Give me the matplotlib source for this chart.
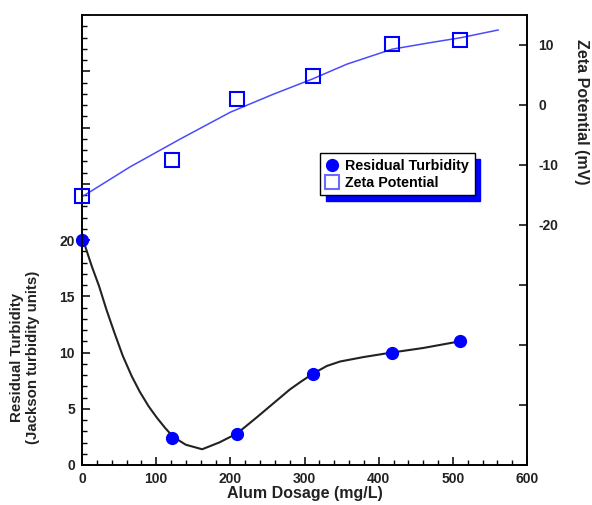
import numpy as np
import matplotlib.pyplot as plt
from matplotlib.ticker import MultipleLocator

plt.rcParams['font.family'] = ['Liberation Sans', 'DejaVu Sans']
plt.rcParams['font.weight'] = 'bold'

# measured points
dosage = [0, 122, 209, 311, 418, 510]
turbidity = [20, 2.4, 2.8, 8.1, 10.0, 11.0]
zeta = [-15.2, -9.2, 1.0, 4.9, 10.1, 10.9]

# smooth curves
turb_curve_x = [0, 4, 13, 23, 33, 44, 55, 67, 78, 90, 101, 112, 123, 140, 162, 185, 209, 235, 253, 280, 295, 311, 330, 348, 380, 418, 460, 510]
turb_curve_y = [20, 19.5, 17.7, 15.9, 13.8, 11.7, 9.7, 7.9, 6.5, 5.2, 4.2, 3.3, 2.5, 1.8, 1.4, 2.0, 2.8, 4.2, 5.2, 6.7, 7.4, 8.1, 8.8, 9.2, 9.6, 10.0, 10.4, 11.0]
zeta_curve_x = [0, 65, 132, 200, 258, 310, 357, 418, 470, 510, 561]
zeta_curve_y = [-15.3, -10.3, -5.7, -1.2, 1.8, 4.3, 6.8, 9.3, 10.4, 11.2, 12.5]

fig = plt.figure(figsize=(5.92, 5.05), dpi=100)
ax = fig.add_axes([82/592, 1-465/505, 445/592, 450/505])
ax2 = ax.twinx()

ax.plot(turb_curve_x, turb_curve_y, color='#222222', lw=1.5, zorder=2)
l1, = ax.plot(dosage, turbidity, 'o', color='#0000ff', ms=8.5, clip_on=False, zorder=3,
              label='Residual Turbidity')

ax2.plot(zeta_curve_x, zeta_curve_y, color='#4a4aff', lw=1.1, zorder=2)
l2, = ax2.plot(dosage, zeta, 's', mfc='none', mec='#0000ff', mew=1.5, ms=9.5, clip_on=False,
               zorder=3, label='Zeta Potential')

ax.set_xlim(0, 600)
ax.set_ylim(0, 40)
ax2.set_ylim(-60, 15)

ax.xaxis.set_major_locator(MultipleLocator(100))
ax.xaxis.set_minor_locator(MultipleLocator(20))
ax.yaxis.set_major_locator(MultipleLocator(5))
ax.yaxis.set_minor_locator(MultipleLocator(1))
ax.set_yticklabels([str(int(v)) if 0 <= v <= 20 else '' for v in ax.get_yticks()])
ax2.yaxis.set_major_locator(MultipleLocator(10))
ax2.set_yticklabels([str(int(v)) if -20 <= v <= 10 else '' for v in ax2.get_yticks()])

for a in (ax, ax2):
    a.tick_params(which='major', direction='in', length=6, width=1.1, labelsize=10, labelcolor='#222222')
    a.tick_params(which='minor', direction='in', length=3.5, width=1.0)
    for s in a.spines.values():
        s.set_linewidth(1.2)
ax.tick_params(top=False, right=False, pad=5)
ax2.tick_params(pad=8)
ax.spines['top'].set_color('#555555')

ax.set_xlabel('Alum Dosage (mg/L)', fontsize=11.5, fontweight='bold', labelpad=0, color='#222222')
fig.text(25/592, 1-357/505, 'Residual Turbidity\n(Jackson turbidity units)', rotation=90,
         ha='center', va='center', fontsize=10.8, fontweight='bold', linespacing=1.15, color='#222222')
fig.text(582/592, 1-112/505, 'Zeta Potential (mV)', rotation=-90, ha='center', va='center',
         fontsize=11.5, fontweight='bold', color='#222222')

leg = ax2.legend([l1, l2], ['Residual Turbidity', 'Zeta Potential'], loc='upper left',
                 bbox_to_anchor=(320/592, 1-153/505), bbox_transform=fig.transFigure,
                 fancybox=False, edgecolor='black', framealpha=1,
                 shadow={'color': '#0000ff', 'alpha': 1, 'ox': 4, 'oy': -4}, fontsize=10.3,
                 handlelength=0.9, handletextpad=0.45, borderpad=0.4, labelspacing=0.2,
                 borderaxespad=0)
leg.get_frame().set_linewidth(1.0)
leg.legend_handles[1].set_markeredgecolor('#6a6aff')

fig.savefig('out.png', dpi=100)
